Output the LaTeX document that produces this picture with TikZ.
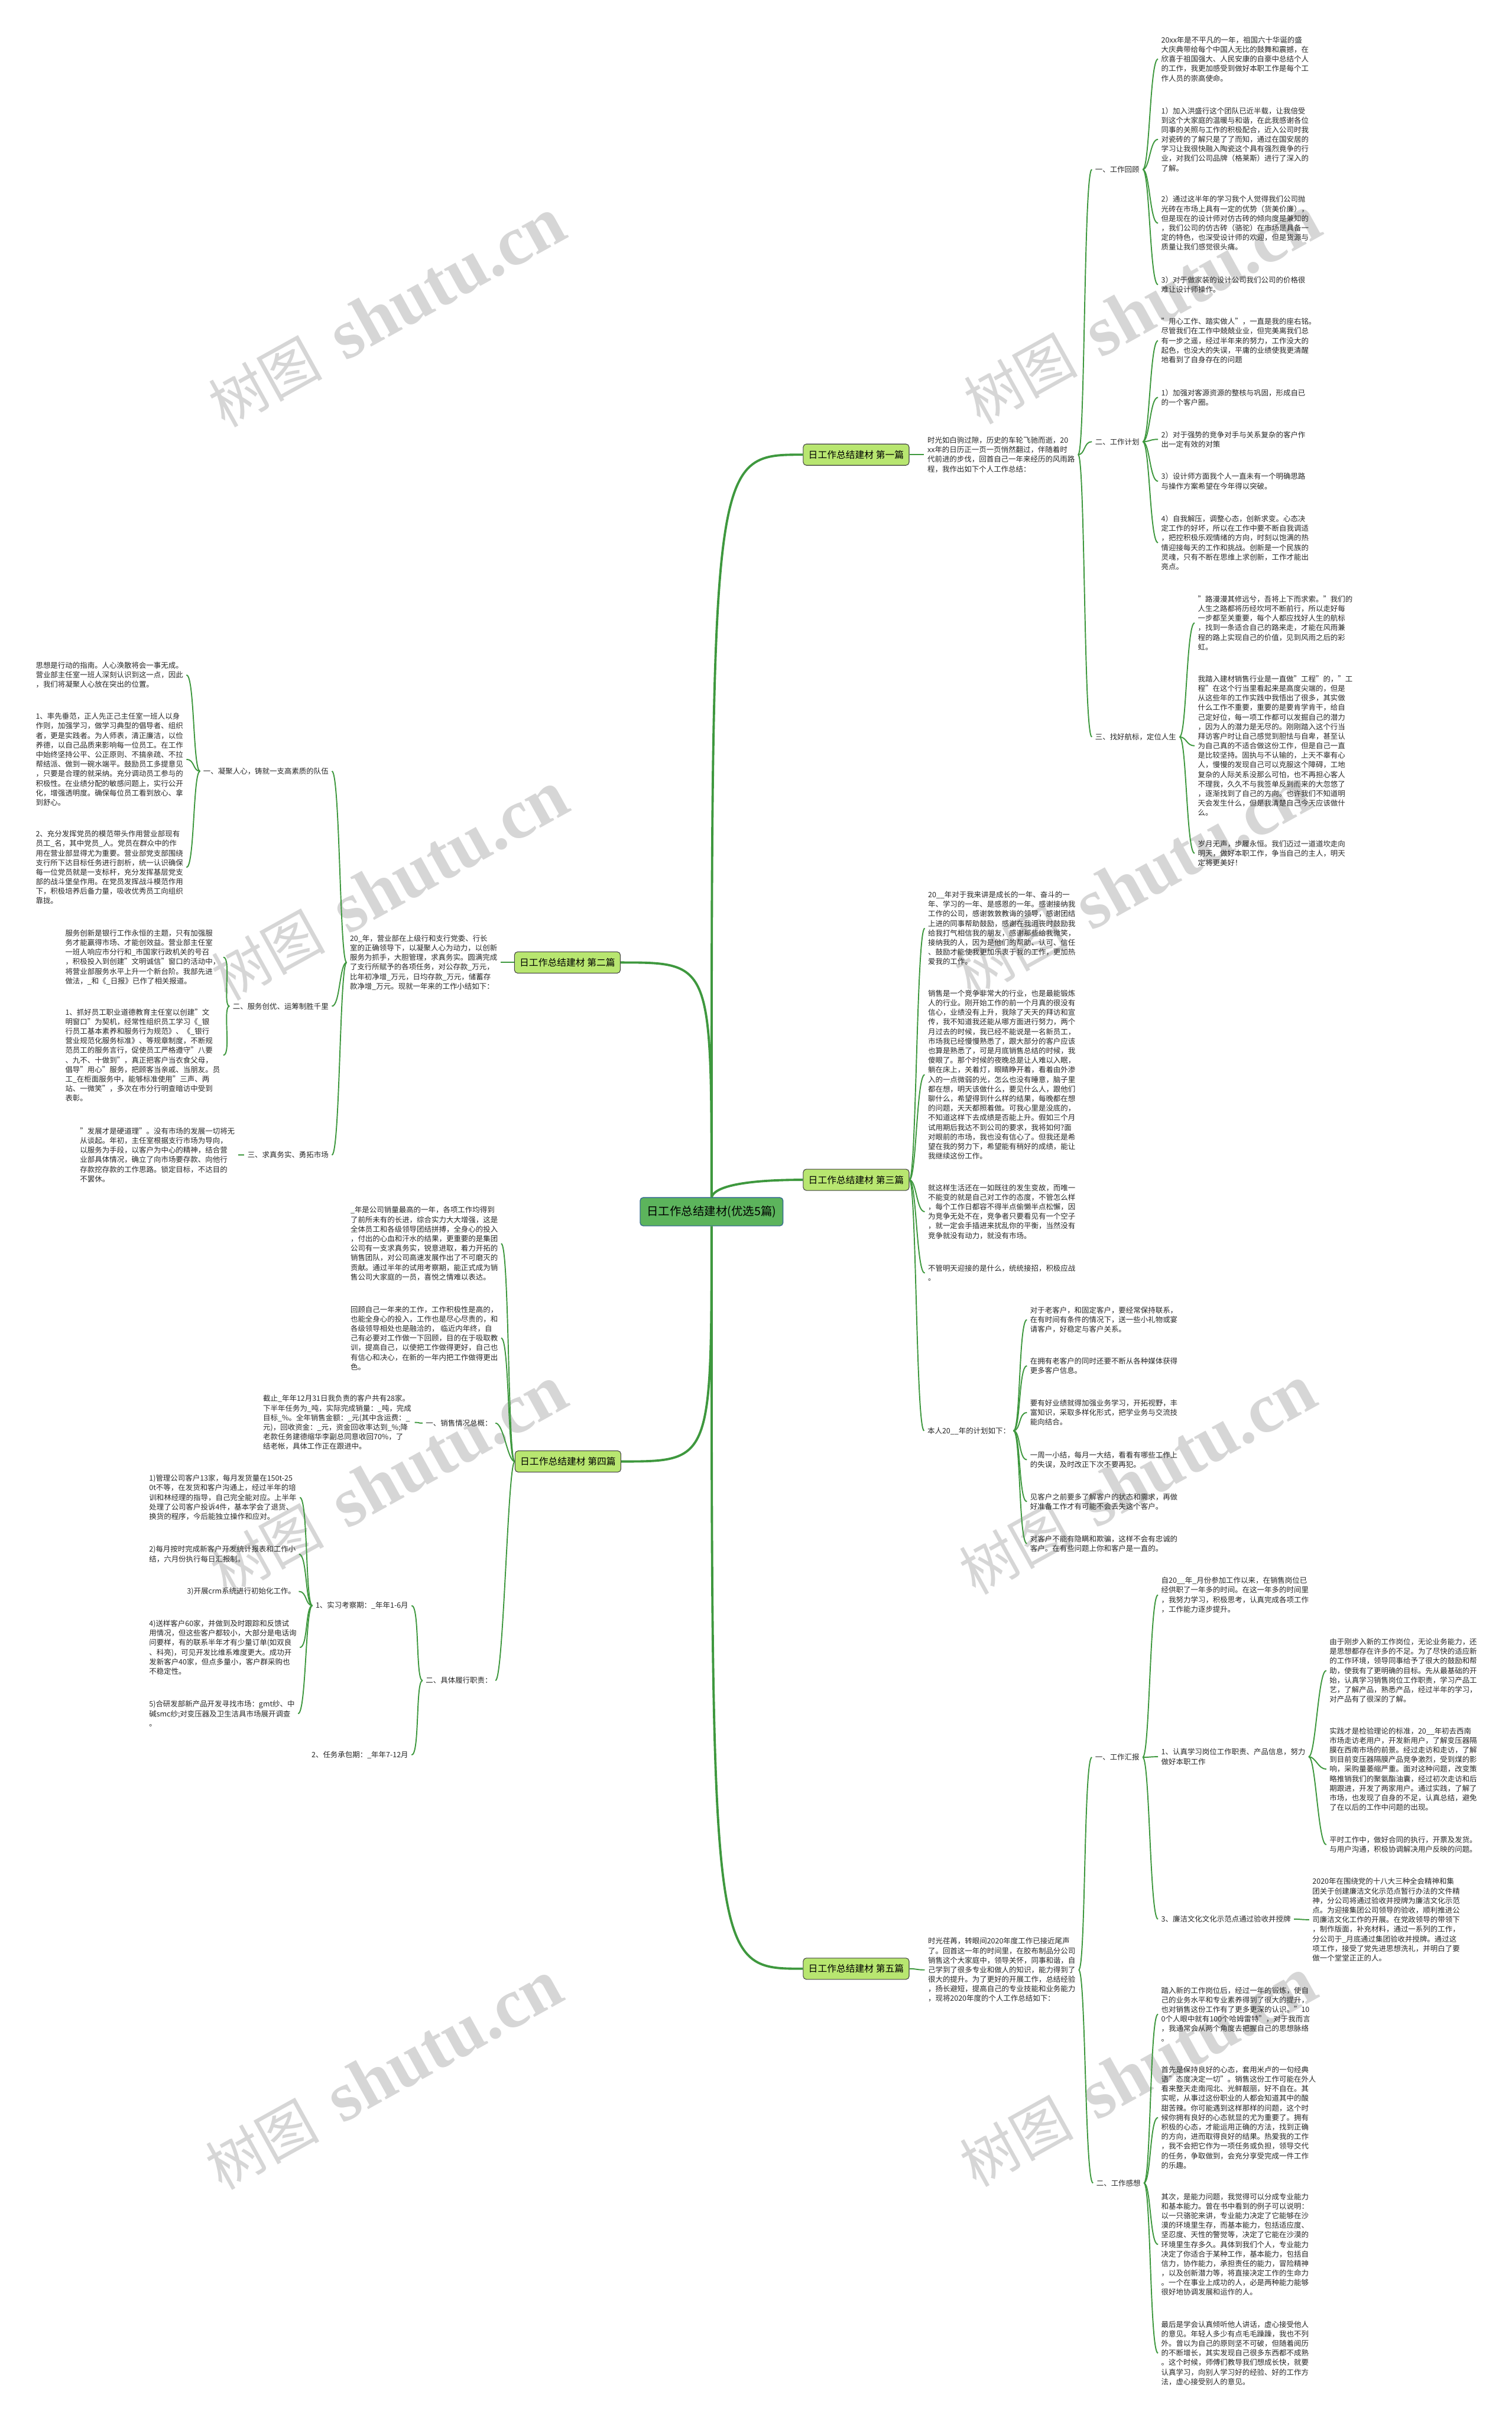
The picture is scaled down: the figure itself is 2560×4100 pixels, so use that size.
\documentclass[tikz,border=0pt]{standalone}
\usepackage{fontspec}
\setmainfont{Noto Sans CJK SC}
\newfontfamily\wmserif{Liberation Serif}
\usepackage{tikz}
\usetikzlibrary{calc}
\definecolor{linkgreen}{RGB}{62,152,62}
\definecolor{boxgreen}{RGB}{184,230,112}
\definecolor{rootgreen}{RGB}{92,180,92}
\definecolor{rootedge}{RGB}{52,108,140}
\definecolor{wmgray}{RGB}{214,214,214}

\begin{document}
\begin{tikzpicture}[x=0.02cm, y=-0.02cm,
    txt/.style={font=\fontsize{7.1}{9.22}\selectfont, align=left, inner sep=3pt, text=black!85},
    branch/.style={draw=black!75, fill=boxgreen, rounded corners=3pt, line width=0.6pt,
      font=\fontsize{9}{11}\selectfont, minimum height=20.5pt, inner xsep=5pt},
    rootbox/.style={draw=rootedge, fill=rootgreen, rounded corners=3pt, line width=0.8pt,
      font=\fontsize{11.1}{13}\selectfont, minimum height=27.3pt, inner xsep=6.5pt},
    link/.style={draw=linkgreen, line width=1.1pt},
    rootlink/.style={draw=linkgreen, line width=2.2pt},
    wmark/.style={text=wmgray, rotate=29, inner sep=0pt}]
        \def\rlink#1#2{\draw[link] (#1.east) .. controls ($(#1.east)+(12,0)$) and ($(#2.west)+(-14,0)$) .. (#2.west);}
        \def\llink#1#2{\draw[link] (#1.west) .. controls ($(#1.west)+(-12,0)$) and ($(#2.east)+(14,0)$) .. (#2.east);}
        \useasboundingbox (0,0) rectangle (2560,4100);
        % watermarks
        \foreach \wx/\wy [count=\k] in {655/530, 1934/525, 660/1501, 1918/1495, 658/2508, 1926/2507, 650/3515, 1927/3510}
            \node[wmark] (wm\k) at (\wx,\wy) {\fontsize{55}{60}\selectfont 树图\hspace{23pt}{\wmserif\bfseries\fontsize{68}{70}\selectfont shutu.cn}};

        % root and branches
        \node[rootbox] (root) at (1205,2052) {日工作总结建材(优选5篇)};
        \node[branch, anchor=east] (b1) at (1540,770) {日工作总结建材 第一篇};
        \node[branch, anchor=east] (b2) at (1051,1630) {日工作总结建材 第二篇};
        \node[branch, anchor=east] (b3) at (1540,1998) {日工作总结建材 第三篇};
        \node[branch, anchor=east] (b4) at (1052,2475) {日工作总结建材 第四篇};
        \node[branch, anchor=east] (b5) at (1540,3334) {日工作总结建材 第五篇};
        \draw[rootlink] (root.north) .. controls (root.north |- b1.west) .. (b1.west);
        \draw[rootlink] (root.north) .. controls (root.north |- b2.east) .. (b2.east);
        \draw[rootlink] (root.north) .. controls ($(root.north)+(8,-25)$) and ($(b3.west)+(-60,0)$) .. (b3.west);
        \draw[rootlink] (root.south) .. controls (root.south |- b4.east) .. (b4.east);
        \draw[rootlink] (root.south) .. controls (root.south |- b5.west) .. (b5.west);

        % first
        \node[txt, anchor=west] (p1) at (1565,770) {时光如白驹过隙，历史的车轮飞驰而逝，20\\xx年的日历正一页一页悄然翻过，伴随着时\\代前进的步伐，回首自己一年来经历的风雨路\\程，我作出如下个人工作总结：};
        \node[txt, anchor=west] (l11) at (1849,287) {一、工作回顾};
        \node[txt, anchor=west] (l12) at (1849,748) {二、工作计划};
        \node[txt, anchor=west] (l13) at (1849,1248) {三、找好航标，定位人生};
        \node[txt, anchor=west] (t111) at (1961,100) {20xx年是不平凡的一年，祖国六十华诞的盛\\大庆典带给每个中国人无比的鼓舞和震撼，在\\欣喜于祖国强大、人民安康的自豪中总结个人\\的工作，我更加感受到做好本职工作是每个工\\作人员的崇高使命。};
        \node[txt, anchor=west] (t112) at (1961,236) {1）加入洪盛行这个团队已近半载，让我倍受\\到这个大家庭的温暖与和谐，在此我感谢各位\\同事的关照与工作的积极配合，近入公司时我\\对瓷砖的了解只是了了而知，通过在国安居的\\学习让我很快融入陶瓷这个具有强烈竟争的行\\业，对我们公司品牌（格莱斯）进行了深入的\\了解。};
        \node[txt, anchor=west] (t113) at (1961,378) {2）通过这半年的学习我个人觉得我们公司抛\\光砖在市场上具有一定的优势（货美价廉），\\但是现在的设计师对仿古砖的倾向度是兼知的\\，我们公司的仿古砖（骆驼）在市场是具备一\\定的特色，也深受设计师的欢迎，但是货源与\\质量让我们感觉很头痛。};
        \node[txt, anchor=west] (t114) at (1961,482) {3）对于做家装的设计公司我们公司的价格很\\难让设计师操作。};
        \node[txt, anchor=west] (t121) at (1961,577) {"用心工作、踏实做人"，一直是我的座右铭。\\尽管我们在工作中兢兢业业，但完美离我们总\\有一步之遥，经过半年来的努力，工作没大的\\起色，也没大的失误，平庸的业绩使我更清醒\\地看到了自身存在的问题};
        \node[txt, anchor=west] (t122) at (1961,673) {1）加强对客源资源的整核与巩固，形成自已\\的一个客户圈。};
        \node[txt, anchor=west] (t123) at (1961,744) {2）对于强势的竞争对手与关系复杂的客户作\\出一定有效的对策};
        \node[txt, anchor=west] (t124) at (1961,815) {3）设计师方面我个人一直未有一个明确思路\\与操作方案希望在今年得以突破。};
        \node[txt, anchor=west] (t125) at (1961,919) {4）自我解压，调整心态，创新求变。心态决\\定工作的好坏，所以在工作中要不断自我调适\\，把控积极乐观情绪的方向，时刻以饱满的热\\情迎接每天的工作和挑战。创新是一个民族的\\灵魂，只有不断在思维上求创新，工作才能出\\亮点。};
        \node[txt, anchor=west] (t131) at (2023,1055) {"路漫漫其修远兮，吾将上下而求索。"我们的\\人生之路都将历经坎坷不断前行，所以走好每\\一步都至关重要，每个人都应找好人生的航标\\，找到一条适合自己的路来走，才能在风雨兼\\程的路上实现自己的价值，见到风雨之后的彩\\虹。};
        \node[txt, anchor=west] (t132) at (2023,1263) {我踏入建材销售行业是一直做"工程"的，"工\\程"在这个行当里看起来是高度尖端的，但是\\从这些年的工作实践中我悟出了很多，其实做\\什么工作不重要，重要的是要肯学肯干，给自\\己定好位，每一项工作都可以发掘自己的潜力\\，因为人的潜力是无尽的。刚刚踏入这个行当\\拜访客户时让自己感觉到胆怯与自卑，甚至认\\为自己真的不适合做这份工作，但是自己一直\\是比较坚持。固执与不认输的，上天不辜有心\\人，慢慢的发现自己可以克服这个障碍，工地\\复杂的人际关系没那么可怕，也不再担心客人\\不理我，久久不与我签单反到而来的大忽悠了\\，逐渐找到了自己的方向。也许我们不知道明\\天会发生什么，但是我清楚自己今天应该做什\\么。};
        \node[txt, anchor=west] (t133) at (2023,1445) {岁月无声，步履永恒。我们迈过一道道坎走向\\明天，做好本职工作，争当自己的主人，明天\\定将更美好！};
        \rlink{b1}{p1}
        \foreach \c in {l11,l12,l13} {\rlink{p1}{\c}}
        \foreach \c in {t111,t112,t113,t114} {\rlink{l11}{\c}}
        \foreach \c in {t121,t122,t123,t124,t125} {\rlink{l12}{\c}}
        \foreach \c in {t131,t132,t133} {\rlink{l13}{\c}}

        % second
        \node[txt, anchor=west] (p2) at (587,1630) {20\_年，营业部在上级行和支行党委、行长\\室的正确领导下，以凝聚人心为动力，以创新\\服务为抓手，大胆管理，求真务实。圆满完成\\了支行所赋予的各项任务，对公存款\_万元，\\比年初净增\_万元，日均存款\_万元，储蓄存\\款净增\_万元。现就一年来的工作小结如下：};
        \node[txt, anchor=east] (l21) at (562,1306) {一、凝聚人心，铸就一支高素质的队伍};
        \node[txt, anchor=east] (l22) at (562,1704) {二、服务创优、运筹制胜千里};
        \node[txt, anchor=east] (l23) at (562,1956) {三、求真务实、勇拓市场};
        \node[txt, anchor=west] (t211) at (55,1143) {思想是行动的指南。人心涣散将会一事无成。\\营业部主任室一班人深刻认识到这一点，因此\\，我们将凝聚人心放在突出的位置。};
        \node[txt, anchor=west] (t212) at (55,1286) {1、率先垂范，正人先正己主任室一班人以身\\作则，加强学习，做学习典型的倡导者、组织\\者，更是实践者。为人师表，清正廉洁，以俭\\养德，以自己品质来影响每一位员工。在工作\\中始终坚持公平、公正原则、不搞亲疏、不拉\\帮结派、做到一碗水端平。鼓励员工多提意见\\，只要是合理的就采纳。充分调动员工参与的\\积极性。在业绩分配的敏感问题上，实行公开\\化，增强透明度。确保每位员工看到放心、拿\\到舒心。};
        \node[txt, anchor=west] (t213) at (55,1469) {2、充分发挥党员的模范带头作用营业部现有\\员工\_名，其中党员\_人。党员在群众中的作\\用在营业部显得尤为重要。营业部党支部围绕\\支行所下达目标任务进行剖析，统一认识确保\\每一位党员就是一支标杆，充分发挥基层党支\\部的战斗堡垒作用。在党员发挥战斗模范作用\\下，积极培养后备力量，吸收优秀员工向组织\\靠拢。};
        \node[txt, anchor=west] (t221) at (105,1621) {服务创新是银行工作永恒的主题，只有加强服\\务才能赢得市场、才能创效益。营业部主任室\\一班人响应市分行和\_市国家行政机关的号召\\，积极投入到创建"文明诚信"窗口的活动中，\\将营业部服务水平上升一个新台阶。我部先进\\做法，\_和《\_日报》已作了相关报道。};
        \node[txt, anchor=west] (t222) at (105,1787) {1、抓好员工职业道德教育主任室以创建"文\\明窗口"为契机，经常性组织员工学习《\_银\\行员工基本素养和服务行为规范》、《\_银行\\营业规范化服务标准》、等规章制度，不断规\\范员工的服务言行，促使员工严格遵守"八要\\、九不、十做到"，真正把客户当衣食父母，\\倡导"用心"服务，把顾客当亲戚、当朋友。员\\工\_在柜面服务中，能够标准使用"三声、两\\站、一微笑"，多次在市分行明查暗访中受到\\表彰。};
        \node[txt, anchor=west] (t231) at (130,1956) {"发展才是硬道理"。没有市场的发展一切将无\\从谈起。年初，主任室根据支行市场为导向，\\以服务为手段，以客户为中心的精神，结合营\\业部具体情况，确立了向市场要存款、向他行\\存款挖存款的工作思路。锁定目标，不达目的\\不罢休。};
        \llink{b2}{p2}
        \foreach \c in {l21,l22,l23} {\llink{p2}{\c}}
        \foreach \c in {t211,t212,t213} {\llink{l21}{\c}}
        \foreach \c in {t221,t222} {\llink{l22}{\c}}
        \llink{l23}{t231}

        % third
        \node[txt, anchor=west] (t31) at (1566,1572) {20\_\_年对于我来讲是成长的一年、奋斗的一\\年、学习的一年、是感恩的一年。感谢接纳我\\工作的公司，感谢敦敦教诲的领导，感谢团结\\上进的同事帮助鼓励，感谢在我沮丧时鼓励我\\给我打气相信我的朋友，感谢那些给我微笑，\\接纳我的人，因为是他们的帮助、认可、信任\\、鼓励才能使我更加乐衷于我的工作，更加热\\爱我的工作。};
        \node[txt, anchor=west] (t32) at (1566,1820) {销售是一个竞争非常大的行业，也是最能锻炼\\人的行业。刚开始工作的前一个月真的很没有\\信心，业绩没有上升，我除了天天的拜访和宣\\传，我不知道我还能从哪方面进行努力，两个\\月过去的时候，我已经不能说是一名新员工，\\市场我已经慢慢熟悉了，跟大部分的客户应该\\也算是熟悉了，可是月底销售总结的时候，我\\傻眼了。那个时候的夜晚总是让人难以入眠，\\躺在床上，关着灯，眼睛睁开着，看着由外渗\\入的一点微弱的光，怎么也没有睡意，脑子里\\都在想，明天该做什么，要见什么人，跟他们\\聊什么，希望得到什么样的结果，每晚都在想\\的问题，天天都照着做。可我心里是没底的，\\不知道这样下去成绩是否能上升。假如三个月\\试用期后我达不到公司的要求，我将如何?面\\对眼前的市场，我也没有信心了。但我还是希\\望在我的努力下，希望能有稍好的成绩，能让\\我继续这份工作。};
        \node[txt, anchor=west] (t33) at (1566,2052) {就这样生活还在一如既往的发生变故，而唯一\\不能变的就是自己对工作的态度，不管怎么样\\，每个工作日都容不得半点偷懒半点松懈，因\\为竞争无处不在，竞争者只要看见有一个空子\\，就一定会手插进来扰乱你的平衡，当然没有\\竞争就没有动力，就没有市场。};
        \node[txt, anchor=west] (t34) at (1566,2156) {不管明天迎接的是什么，统统接招，积极应战\\。};
        \node[txt, anchor=west] (l35) at (1565,2423) {本人20\_\_年的计划如下：};
        \node[txt, anchor=west] (t351) at (1739,2235) {对于老客户，和固定客户，要经常保持联系，\\在有时间有条件的情况下，送一些小礼物或宴\\请客户，好稳定与客户关系。};
        \node[txt, anchor=west] (t352) at (1739,2313) {在拥有老客户的同时还要不断从各种媒体获得\\更多客户信息。};
        \node[txt, anchor=west] (t353) at (1739,2392) {要有好业绩就得加强业务学习，开拓视野，丰\\富知识，采取多样化形式，把学业务与交流技\\能向结合。};
        \node[txt, anchor=west] (t354) at (1739,2472) {一周一小结，每月一大结，看看有哪些工作上\\的失误，及时改正下次不要再犯。};
        \node[txt, anchor=west] (t355) at (1739,2543) {见客户之前要多了解客户的状态和需求，再做\\好准备工作才有可能不会丢失这个客户。};
        \node[txt, anchor=west] (t356) at (1739,2614) {对客户不能有隐瞒和欺骗，这样不会有忠诚的\\客户。在有些问题上你和客户是一直的。};
        \foreach \c in {t31,t32,t33,t34,l35} {\rlink{b3}{\c}}
        \foreach \c in {t351,t352,t353,t354,t355,t356} {\rlink{l35}{\c}}

        % fourth
        \node[txt, anchor=west] (t41a) at (588,2106) {\_年是公司销量最高的一年，各项工作均得到\\了前所未有的长进，综合实力大大增强，这是\\全体员工和各级领导团结拼搏，全身心的投入\\，付出的心血和汗水的结果，更重要的是集团\\公司有一支求真务实，锐意进取，着力开拓的\\销售团队，对公司高速发展作出了不可磨灭的\\贡献。通过半年的试用考察期，能正式成为销\\售公司大家庭的一员，喜悦之情难以表达。};
        \node[txt, anchor=west] (t41b) at (588,2266) {回顾自己一年来的工作，工作积极性是高的，\\也能全身心的投入，工作也是尽心尽责的，和\\各级领导相处也是融洽的， 临近内年终，自\\己有必要对工作做一下回顾，目的在于吸取教\\训，提高自己，以使把工作做得更好，自己也\\有信心和决心，在新的一年内把工作做得更出\\色。};
        \node[txt, anchor=east] (l41) at (839,2410) {一、销售情况总概：};
        \node[txt, anchor=east] (l42) at (839,2846) {二、具体履行职责：};
        \node[txt, anchor=west] (t411) at (440,2409) {截止\_年年12月31日我负责的客户共有28家。\\下半年任务为\_吨，实际完成销量：\_吨，完成\\目标\_\%。全年销售金额：\_元(其中含运费：\_\\元)，回收资金：\_元，资金回收率达到\_\%;降\\老款任务建德缩华李副总同意收回70\%，了\\结老帐，具体工作正在跟进中。};
        \node[txt, anchor=east] (l421) at (697,2719) {1、实习考察期：\_年年1-6月};
        \node[txt, anchor=east] (l422) at (697,2972) {2、任务承包期：\_年年7-12月};
        \node[txt, anchor=west] (t4211) at (247,2536) {1)管理公司客户13家，每月发货量在150t-25\\0t不等，在发货和客户沟通上，经过半年的培\\训和林经理的指导，自己完全能对应。上半年\\处理了公司客户投诉4件，基本学会了退货、\\换货的程序，今后能独立操作和应对。};
        \node[txt, anchor=west] (t4212) at (247,2632) {2)每月按时完成新客户开发统计报表和工作小\\结，六月份执行每日汇报制。};
        \node[txt, anchor=east] (t4213) at (506,2695) {3)开展crm系统进行初始化工作。};
        \node[txt, anchor=west] (t4214) at (247,2790) {4)送样客户60家，并做到及时跟踪和反馈试\\用情况，但这些客户都较小，大部分是电话询\\问要样，有的联系半年才有少量订单(如双良\\、科亮)，可见开发比维系难度更大。成功开\\发新客户40家，但点多量小，客户群采购也\\不稳定性。};
        \node[txt, anchor=west] (t4215) at (247,2902) {5)合研发部新产品开发寻找市场：gmt纱、中\\碱smc纱;对变压器及卫生洁具市场展开调查\\。};
        \foreach \c in {t41a,t41b,l41,l42} {\llink{b4}{\c}}
        \llink{l41}{t411}
        \foreach \c in {l421,l422} {\llink{l42}{\c}}
        \foreach \c in {t4211,t4212,t4213,t4214,t4215} {\llink{l421}{\c}}

        % fifth
        \node[txt, anchor=west] (p5) at (1566,3336) {时光荏苒，转眼间2020年度工作已接近尾声\\了。回首这一年的时间里，在胶布制品分公司\\销售这个大家庭中，领导关怀，同事和谐，自\\己学到了很多专业和做人的知识，能力得到了\\很大的提升。为了更好的开展工作，总结经验\\，扬长避短，提高自己的专业技能和业务能力\\，现将2020年度的个人工作总结如下：};
        \node[txt, anchor=west] (l51) at (1849,2976) {一、工作汇报};
        \node[txt, anchor=west] (l52) at (1851,3697) {二、工作感想};
        \node[txt, anchor=west] (t511) at (1961,2701) {自20\_\_年\_月份参加工作以来，在销售岗位已\\经供职了一年多的时间。在这一年多的时间里\\，我努力学习，积极思考，认真完成各项工作\\，工作能力逐步提升。};
        \node[txt, anchor=west] (l512) at (1961,2975) {1、认真学习岗位工作职责、产品信息，努力\\做好本职工作};
        \node[txt, anchor=west] (l513) at (1961,3250) {3、廉洁文化文化示范点通过验收并授牌};
        \node[txt, anchor=west] (t5121) at (2246,2829) {由于刚步入新的工作岗位，无论业务能力，还\\是思想都存在许多的不足。为了尽快的适应新\\的工作环境，领导同事给予了很大的鼓励和帮\\助，使我有了更明确的目标。先从最基础的开\\始，认真学习销售岗位工作职责，学习产品工\\艺，了解产品，熟悉产品，经过半年的学习，\\对产品有了很深的了解。};
        \node[txt, anchor=west] (t5122) at (2246,2996) {实践才是检验理论的标准，20\_\_年初去西南\\市场走访老用户，开发新用户，了解变压器隔\\膜在西南市场的前景。经过走访和走访，了解\\到目前变压器隔膜产品竞争激烈，受到煤的影\\响，采购量萎缩严重。面对这种问题，改变策\\略推销我们的聚氨酯油囊，经过初次走访和后\\期跟进，开发了两家用户。通过实践，了解了\\市场，也发现了自身的不足，认真总结，避免\\了在以后的工作中问题的出现。};
        \node[txt, anchor=west] (t5123) at (2246,3124) {平时工作中，做好合同的执行，开票及发货。\\与用户沟通，积极协调解决用户反映的问题。};
        \node[txt, anchor=west] (t5131) at (2217,3251) {2020年在围绕党的十八大三种全会精神和集\\团关于创建廉洁文化示范点暂行办法的文件精\\神，分公司将通过验收并授牌为廉洁文化示范\\点。为迎接集团公司领导的验收，顺利推进公\\司廉洁文化工作的开展。在党政领导的带领下\\，制作版面，补充材料，通过一系列的工作，\\分公司于\_月底通过集团验收并授牌。通过这\\项工作，接受了党先进思想洗礼，并明白了要\\做一个堂堂正正的人。};
        \node[txt, anchor=west] (t521) at (1961,3411) {踏入新的工作岗位后，经过一年的锻炼，使自\\己的业务水平和专业素养得到了很大的提升，\\也对销售这份工作有了更多更深的认识。"10\\0个人眼中就有100个哈姆雷特"，对于我而言\\，我通常会从两个角度去把握自己的思想脉络\\。};
        \node[txt, anchor=west] (t522) at (1961,3586) {首先是保持良好的心态，套用米卢的一句经典\\语"态度决定一切"。销售这份工作可能在外人\\看来整天走南闯北、光鲜靓丽，好不自在。其\\实呢，从事过这份职业的人都会知道其中的酸\\甜苦辣。你可能遇到这样那样的问题，这个时\\候你拥有良好的心态就显的尤为重要了。拥有\\积极的心态，才能运用正确的方法，找到正确\\的方向，进而取得良好的结果。热爱我的工作\\，我不会把它作为一项任务或负担，领导交代\\的任务，争取做到，会充分享受完成一件工作\\的乐趣。};
        \node[txt, anchor=west] (t523) at (1961,3801) {其次，是能力问题，我觉得可以分成专业能力\\和基本能力。曾在书中看到的例子可以说明：\\以一只骆驼来讲，专业能力决定了它能够在沙\\漠的环境里生存，而基本能力，包括适应度、\\坚忍度、天性的警觉等，决定了它能在沙漠的\\环境里生存多久。具体到我们个人，专业能力\\决定了你适合于某种工作，基本能力，包括自\\信力，协作能力，承担责任的能力，冒险精神\\，以及创新潜力等，将直接决定工作的生命力\\。一个在事业上成功的人，必是两种能力能够\\很好地协调发展和运作的人。};
        \node[txt, anchor=west] (t524) at (1961,3985) {最后是学会认真倾听他人讲话，虚心接受他人\\的意见。年轻人多少有点毛毛躁躁，我也不列\\外。曾以为自己的原则坚不可破，但随着阅历\\的不断增长，其实发现自己很多东西都不成熟\\。这个时候，师傅们教导我们想成长快，就要\\认真学习，向别人学习好的经验、好的工作方\\法，虚心接受别人的意见。};
        \rlink{b5}{p5}
        \foreach \c in {l51,l52} {\rlink{p5}{\c}}
        \foreach \c in {t511,l512,l513} {\rlink{l51}{\c}}
        \foreach \c in {t5121,t5122,t5123} {\rlink{l512}{\c}}
        \rlink{l513}{t5131}
        \foreach \c in {t521,t522,t523,t524} {\rlink{l52}{\c}}
    \end{tikzpicture}
\end{document}
